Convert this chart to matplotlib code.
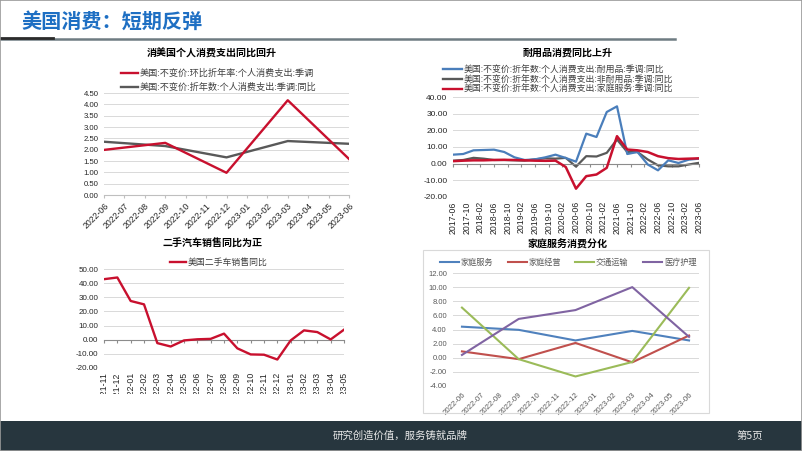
import matplotlib
matplotlib.use('Agg')
import matplotlib.pyplot as plt
from matplotlib.patches import Rectangle
from matplotlib.lines import Line2D

plt.rcParams['font.family'] = ['Noto Sans CJK SC', 'DejaVu Sans']
plt.rcParams['axes.unicode_minus'] = False

W, H = 802, 451

# ---------------- data ----------------
slide_title = '美国消费：短期反弹'
footer_text = '研究创造价值，服务铸就品牌'
page_text = '第5页'

c1_title = '消美国个人消费支出同比回升'
c1_months = ['2022-06', '2022-07', '2022-08', '2022-09', '2022-10', '2022-11', '2022-12',
             '2023-01', '2023-02', '2023-03', '2023-04', '2023-05', '2023-06']
c1_dates = ['2022-06', '2022-09', '2022-12', '2023-03', '2023-06']
c1_names = ['美国:不变价:环比折年率:个人消费支出:季调', '美国:不变价:折年数:个人消费支出:季调:同比']
c1_qoq = [1.99, 2.30, 0.98, 4.18, 1.59]
c1_yoy = [2.35, 2.16, 1.66, 2.38, 2.26]
c1_yticks = [0, 0.5, 1.0, 1.5, 2.0, 2.5, 3.0, 3.5, 4.0, 4.5]

c2_title = '耐用品消费同比上升'
c2_names = ['美国:不变价:折年数:个人消费支出:耐用品:季调:同比',
            '美国:不变价:折年数:个人消费支出:非耐用品:季调:同比',
            '美国:不变价:折年数:个人消费支出:家庭服务:季调:同比']
c2_quarters = ['2017-06', '2017-09', '2017-12', '2018-03', '2018-06', '2018-09', '2018-12',
               '2019-03', '2019-06', '2019-09', '2019-12', '2020-03', '2020-06', '2020-09',
               '2020-12', '2021-03', '2021-06', '2021-09', '2021-12', '2022-03', '2022-06',
               '2022-09', '2022-12', '2023-03', '2023-06']
c2_durable = [5.4, 5.8, 8.0, 8.2, 8.4, 7.0, 3.8, 2.2, 2.6, 3.8, 5.4, 3.4, 1.2, 18.0, 16.0,
              31.0, 34.4, 5.8, 7.0, -0.5, -4.0, 2.0, 0.4, 2.4, 3.0]
c2_nondurable = [1.8, 2.2, 3.5, 3.0, 2.2, 2.2, 2.0, 1.8, 2.6, 3.2, 3.0, 3.5, -1.8, 4.5, 4.3,
                 6.5, 14.5, 7.0, 7.0, 2.5, -1.0, -1.6, -1.6, -0.5, 0.5]
c2_services = [1.5, 1.8, 2.0, 2.0, 2.2, 2.3, 2.2, 2.0, 1.8, 1.7, 1.8, -2.0, -15.0, -7.5, -6.5,
               -2.5, 16.5, 8.5, 8.0, 7.0, 4.5, 3.3, 2.8, 3.0, 3.2]
c2_xticklabels = ['2017-06', '2017-10', '2018-02', '2018-06', '2018-10', '2019-02', '2019-06',
                  '2019-10', '2020-02', '2020-06', '2020-10', '2021-02', '2021-06', '2021-10',
                  '2022-02', '2022-06', '2022-10', '2023-02', '2023-06']
c2_yticks = [-20, -10, 0, 10, 20, 30, 40]

c3_title = '二手汽车销售同比为正'
c3_name = '美国二手车销售同比'
c3_months = ['2021-11', '2021-12', '2022-01', '2022-02', '2022-03', '2022-04', '2022-05',
             '2022-06', '2022-07', '2022-08', '2022-09', '2022-10', '2022-11', '2022-12',
             '2023-01', '2023-02', '2023-03', '2023-04', '2023-05']
c3_values = [42.8, 44.0, 27.4, 25.0, -2.4, -4.8, -0.5, 0.3, 0.6, 4.3, -6.1, -10.4, -10.6,
             -14.0, -0.5, 6.6, 5.4, 0.2, 7.1]
c3_yticks = [-20, -10, 0, 10, 20, 30, 40, 50]

c4_title = '家庭服务消费分化'
c4_months = c1_months
c4_dates = ['2022-06', '2022-09', '2022-12', '2023-03', '2023-06']
c4_names = ['家庭服务', '家庭经营', '交通运输', '医疗护理']
c4_household = [4.40, 3.95, 2.45, 3.80, 2.45]
c4_operation = [0.90, -0.20, 2.10, -0.65, 3.15]
c4_transport = [7.10, -0.20, -2.65, -0.60, 9.90]
c4_medical = [0.40, 5.50, 6.75, 10.00, 2.95]
c4_yticks = [-4, -2, 0, 2, 4, 6, 8, 10, 12]

RED = '#C8102E'
GRAY = '#595959'
BLUE2 = '#4A7EBB'
C4_COLORS = ['#4F81BD', '#C0504D', '#9BBB59', '#8064A2']
GRID = '#D9D9D9'
NUM_FONT = 'Liberation Sans'
DARK = '#262626'


fig = plt.figure(figsize=(W / 100, H / 100), dpi=100)
fig.patch.set_facecolor('white')


def px_axes(x0, y0, x1, y1):
    return fig.add_axes([x0 / W, 1 - y1 / H, (x1 - x0) / W, (y1 - y0) / H])


def fx(x):
    return x / W


def fy(y):
    return 1 - y / H


def legend_rows(entries, x0, x1, ys, fontsize, color='#404040', lw=1.7):
    for (name, col), y in zip(entries, ys):
        fig.add_artist(Line2D([fx(x0), fx(x1)], [fy(y), fy(y)], color=col, lw=lw))
        fig.text(fx(x1 + 1.5), fy(y), name, ha='left', va='center', fontsize=fontsize, color=color)


def style_common(ax, yticks, fmt, fs, color=DARK):
    ax.set_facecolor('none')
    for s in ['left', 'right', 'top']:
        ax.spines[s].set_visible(False)
    ax.set_yticks(yticks)
    ax.set_yticklabels([fmt.format(v) for v in yticks], fontfamily=NUM_FONT, fontsize=fs, color=color)
    ax.tick_params(axis='y', length=0, pad=4)
    ax.grid(axis='y', color=GRID, lw=0.7)
    ax.set_axisbelow(True)


# ---------------- slide decorations ----------------
fig.add_artist(Rectangle((0, 0), 1, 1, transform=fig.transFigure, fill=False,
                         edgecolor='#9a9a9a', lw=1.2, zorder=10))
fig.text(fx(21), fy(21), slide_title, ha='left', va='center', fontsize=14.5,
         fontweight='bold', color='#1E6FC3')
fig.add_artist(Line2D([0, fx(675)], [fy(39), fy(39)], color='#6E7C82', lw=1.8))
fig.add_artist(Line2D([0, fx(53)], [fy(38.3), fy(38.3)], color='#2b2b2b', lw=2.0))

fig.add_artist(Rectangle((0, 0), 1, fy(421), transform=fig.transFigure,
                         facecolor='#27363E', edgecolor='none', zorder=8))
fig.text(fx(400), fy(436), footer_text, ha='center', va='center', fontsize=7.5,
         color='#E8E8E8', zorder=9)
fig.text(fx(750), fy(436), page_text, ha='center', va='center', fontsize=7.5,
         color='#E8E8E8', zorder=9)

# ---------------- chart 1 ----------------
ax1 = px_axes(104, 93, 349, 195)
x1 = [c1_months.index(d) for d in c1_dates]
ax1.plot(x1, c1_qoq, color=RED, lw=1.7, zorder=3)
ax1.plot(x1, c1_yoy, color=GRAY, lw=1.7, zorder=2)
ax1.set_xlim(0, len(c1_months) - 1)
ax1.set_ylim(0, 4.5)
style_common(ax1, c1_yticks, '{:.2f}', 5.6)
ax1.spines['bottom'].set_color('#BFBFBF')
ax1.set_xticks(range(len(c1_months)))
ax1.set_xticklabels(c1_months, rotation=45, ha='right', rotation_mode='anchor',
                    fontfamily=NUM_FONT, fontsize=6.3, color=DARK)
ax1.tick_params(axis='x', length=2.5, color='#BFBFBF', pad=2)
fig.text(fx(212), fy(53), c1_title, ha='center', va='center', fontsize=7.2, fontweight='bold')
legend_rows(list(zip(c1_names, [RED, GRAY])), 121, 138, [73, 87], 6.6)

# ---------------- chart 2 ----------------
ax2 = px_axes(453, 97, 699, 197)
month_index = {}
for i in range(73):
    y = 2017 + (5 + i) // 12
    m = (5 + i) % 12 + 1
    month_index['%d-%02d' % (y, m)] = i
x2 = [month_index[q] for q in c2_quarters]
ax2.plot(x2, c2_durable, color=BLUE2, lw=1.6, zorder=3)
ax2.plot(x2, c2_nondurable, color=GRAY, lw=1.6, zorder=2)
ax2.plot(x2, c2_services, color=RED, lw=1.8, zorder=4)
ax2.set_xlim(0, 72)
ax2.set_ylim(-20, 40)
style_common(ax2, c2_yticks, '{:.2f}', 6.0)
ax2.spines['bottom'].set_position(('data', 0))
ax2.spines['bottom'].set_color('#8C8C8C')
ax2.set_xticks([month_index[t] for t in c2_xticklabels])
ax2.tick_params(axis='x', labelbottom=False, length=2, color='#8C8C8C')
sec2 = ax2.secondary_xaxis('bottom')
sec2.set_xticks([month_index[t] for t in c2_xticklabels])
sec2.set_xticklabels(c2_xticklabels, rotation=90, fontfamily=NUM_FONT, fontsize=6.3, color=DARK)
sec2.tick_params(length=0, pad=3)
sec2.spines['bottom'].set_visible(False)
fig.text(fx(568), fy(53), c2_title, ha='center', va='center', fontsize=7.2, fontweight='bold')
legend_rows(list(zip(c2_names, [BLUE2, GRAY, RED])), 443, 462, [69, 79, 89], 6.4)

# ---------------- chart 3 ----------------
ax3 = px_axes(104, 269, 344, 368)
x3 = list(range(len(c3_months)))
ax3.plot(x3, c3_values, color=RED, lw=1.7, zorder=3)
ax3.set_xlim(0, len(c3_months) - 1)
ax3.set_ylim(-20, 50)
style_common(ax3, c3_yticks, '{:.2f}', 5.8)
ax3.spines['bottom'].set_position(('data', 0))
ax3.spines['bottom'].set_color('#8C8C8C')
ax3.set_xticks(x3)
ax3.tick_params(axis='x', labelbottom=False, length=2, color='#8C8C8C')
sec3 = ax3.secondary_xaxis('bottom')
sec3.set_xticks(x3)
sec3.set_xticklabels(c3_months, rotation=90, fontfamily=NUM_FONT, fontsize=6.3, color=DARK)
sec3.tick_params(length=0, pad=3)
sec3.spines['bottom'].set_visible(False)
fig.add_artist(Rectangle((fx(55), fy(421)), fx(310), fy(393.5) - fy(421),
                         transform=fig.transFigure, facecolor='white', edgecolor='none', zorder=7))
fig.text(fx(212), fy(244), c3_title, ha='center', va='center', fontsize=7.2, fontweight='bold')
legend_rows([(c3_name, RED)], 170, 186, [262], 6.4)

# ---------------- chart 4 ----------------
fig.add_artist(Rectangle((fx(423), fy(413)), fx(709) - fx(423), fy(250) - fy(413),
                         transform=fig.transFigure, fill=False, edgecolor='#D9D9D9', lw=0.8))
ax4 = px_axes(452.5, 273, 698.5, 386)
x4 = [c4_months.index(d) for d in c4_dates]
for vals, col in zip([c4_household, c4_operation, c4_transport, c4_medical], C4_COLORS):
    ax4.plot(x4, vals, color=col, lw=1.5, zorder=3)
ax4.set_xlim(-0.5, len(c4_months) - 0.5)
ax4.set_ylim(-4, 12)
style_common(ax4, c4_yticks, '{:.2f}', 5.5, color=GRAY)
ax4.spines['bottom'].set_visible(False)
ax4.set_xticks(range(len(c4_months)))
ax4.set_xticklabels(c4_months, rotation=45, ha='right', rotation_mode='anchor',
                    fontfamily=NUM_FONT, fontsize=5.7, color=GRAY)
ax4.tick_params(axis='x', length=0, pad=4)
fig.text(fx(568), fy(244), c4_title, ha='center', va='center', fontsize=7.2, fontweight='bold')
for name, col, xl in zip(c4_names, C4_COLORS, [440, 508, 575, 643]):
    fig.add_artist(Line2D([fx(xl), fx(xl + 19)], [fy(262), fy(262)], color=col, lw=1.5))
    fig.text(fx(xl + 21), fy(262), name, ha='left', va='center', fontsize=5.9, color=GRAY)

fig.savefig('out.png', dpi=100)
